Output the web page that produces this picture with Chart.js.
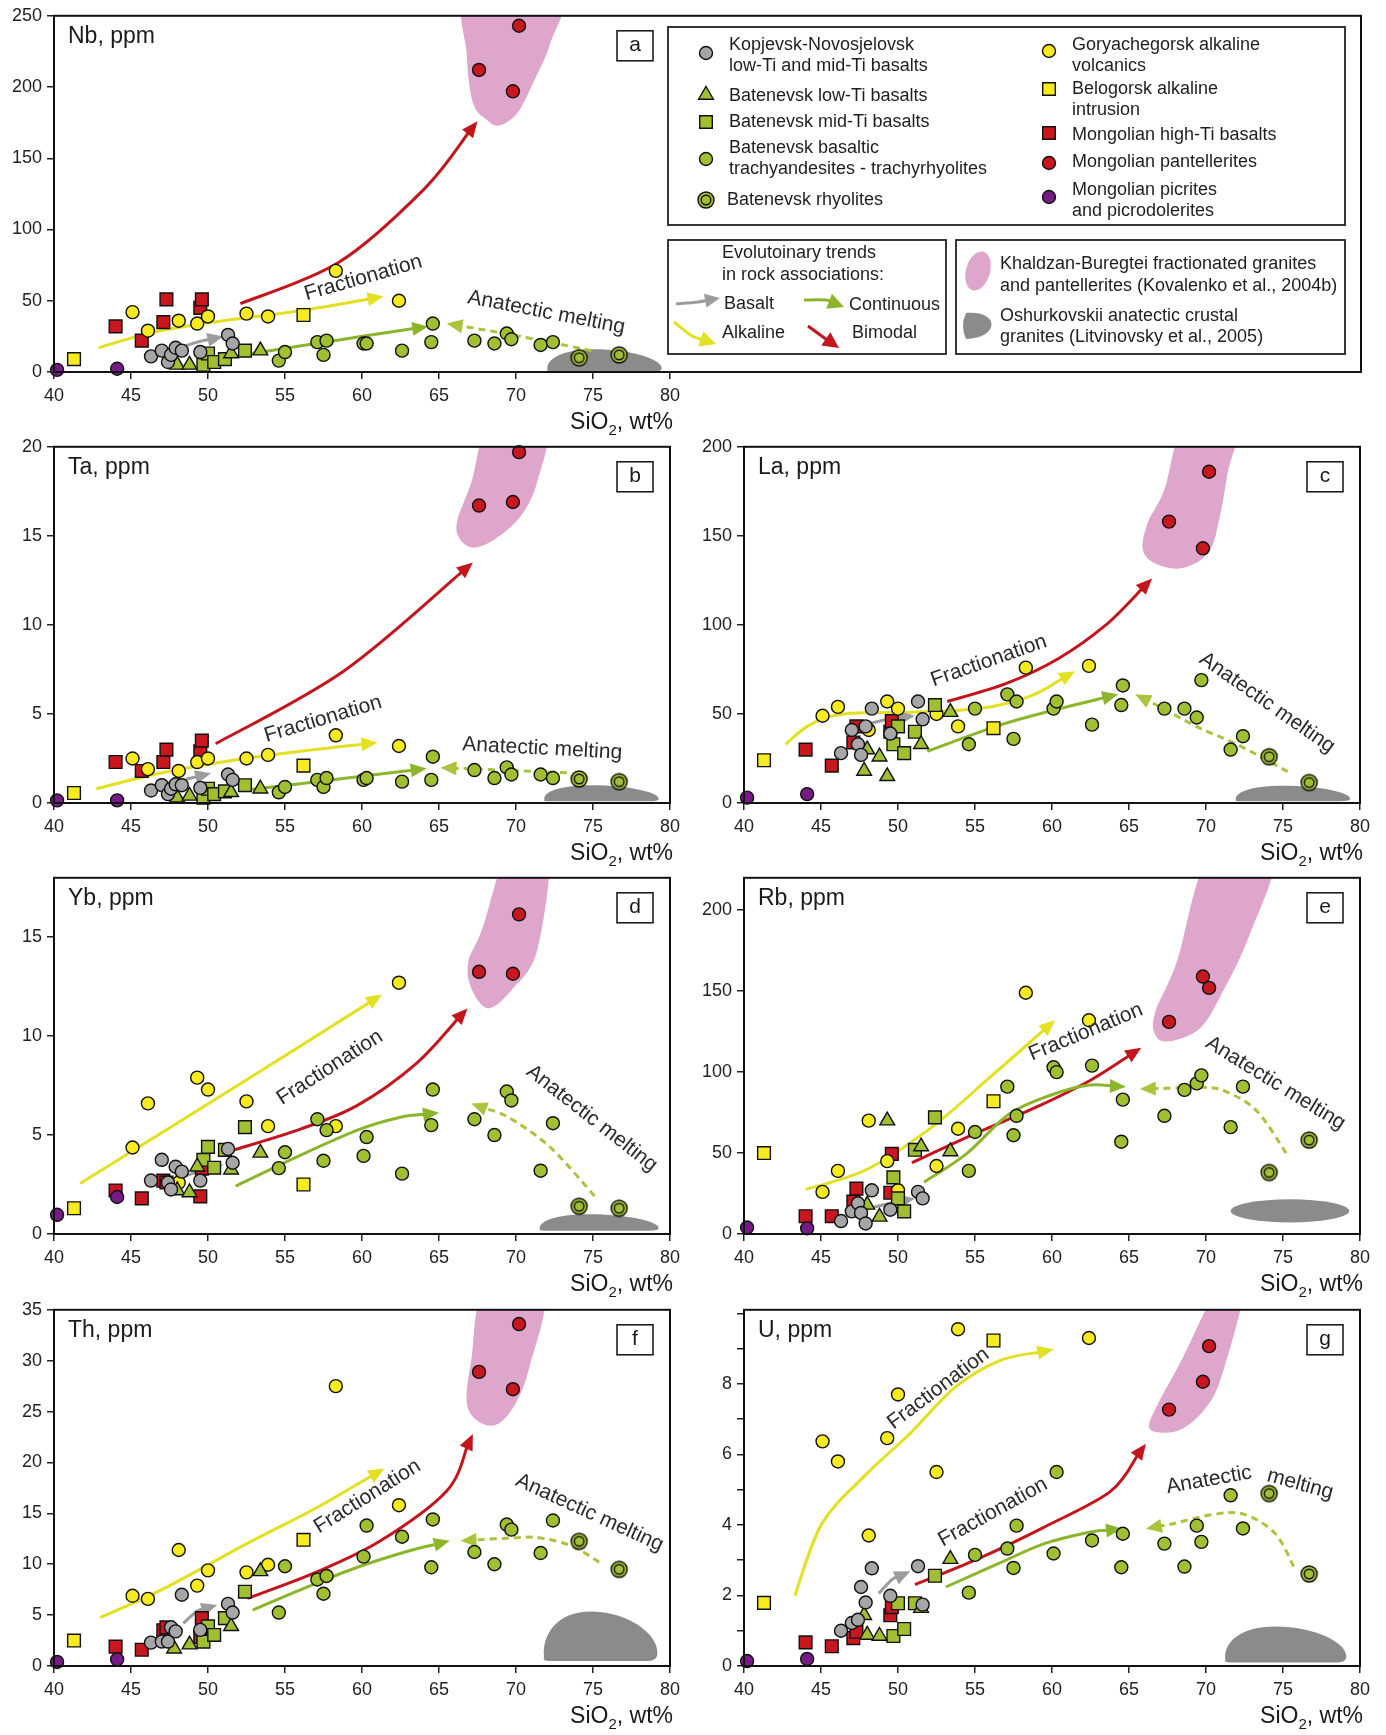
<!DOCTYPE html>
<html>
<head>
<meta charset="utf-8">
<title>Trace elements vs SiO2</title>
<script src="https://cdn.jsdelivr.net/npm/chart.js@4.4.1/dist/chart.umd.min.js"></script>
<style>
  html, body { margin: 0; padding: 0; background: #fff; }
  body { position: relative; width: 1386px; height: 1735px; overflow: hidden; }
  canvas { position: absolute; }
</style>
</head>
<body>
<canvas id="pa"></canvas>
<canvas id="pb"></canvas>
<canvas id="pc"></canvas>
<canvas id="pd"></canvas>
<canvas id="pe"></canvas>
<canvas id="pf"></canvas>
<canvas id="pg"></canvas>
<script>
// SiO2 (wt%) of the samples in each group
const siKN = [46.3, 47.0, 47.4, 47.6, 47.9, 48.3, 49.5, 51.3, 51.6];
const siBL = [47.8, 48.0, 48.8, 49.3, 51.5, 53.4];
const siBM = [49.7, 50.0, 50.4, 51.1, 52.4];
const siBT = [54.6, 55.0, 57.1, 57.5, 57.7, 60.1, 60.3, 62.6, 64.5, 64.6, 67.3, 68.6, 69.4, 69.7, 71.6, 72.4];
const siBR = [74.1, 76.7];
const siGA = [45.1, 46.1, 48.1, 49.3, 50.0, 52.5, 53.9, 58.3, 62.4];
const siBA = [41.3, 56.2];
const siMB = [44.0, 45.7, 47.1, 47.3, 49.5, 49.6];
const siMP = [67.6, 69.8, 70.2];
const siPI = [40.2, 44.1];

// element contents, same sample order as the SiO2 lists (null = not plotted)
const nbPpm = {
  kn: [11, 15, 7, 12, 17, 15, 14, 26, 20],
  bl: [null, 5, 5, null, 13, 15],
  bm: [5, 13, 7, 9, 15],
  bt: [8, 14, 21, 12, 22, 20, 20, 15, 21, 34, 22, 20, 27, 23, 19, 21],
  br: [10, 12],
  ga: [42, 29, 36, 34, 39, 41, 39, 71, 50],
  ba: [9, 40],
  mb: [32, 22, 35, 51, 45, 51],
  mp: [212, 197, 243],
  pi: [1.5, 2.3]
};
const taPpm = {
  kn: [0.7, 1.0, 0.5, 0.8, 1.05, 1.0, 0.85, 1.6, 1.3],
  bl: [null, 0.3, 0.4, null, 0.6, 0.8],
  bm: [0.3, 0.8, 0.5, 0.65, 1.0],
  bt: [0.6, 0.9, 1.3, 0.9, 1.4, 1.3, 1.4, 1.2, 1.3, 2.6, 1.85, 1.4, 2.0, 1.6, 1.6, 1.4],
  br: [1.35, 1.2],
  ga: [2.5, 1.9, 1.8, 2.3, 2.5, 2.5, 2.7, 3.8, 3.2],
  ba: [0.56, 2.1],
  mb: [2.3, 1.8, 2.3, 3.0, 2.9, 3.5],
  mp: [16.7, 16.9, 19.7],
  pi: [0.15, 0.15]
};
const laPpm = {
  kn: [28, 41, 33, 27, 43, 53, 39, 57, 47],
  bl: [18, 30, 26, 15, 33, 51],
  bm: [33, 43, 28, 40, 55],
  bt: [33, 53, 61, 36, 57, 53, 57, 44, 55, 66, 53, 53, 48, 69, 30, 37.5],
  br: [26, 11.5],
  ga: [49, 54, 41, 57, 53, 50, 43, 76, 77],
  ba: [24, 42],
  mb: [30, 21, 34, 43, 40, 46],
  mp: [158, 143, 186],
  pi: [3, 5]
};
const ybPpm = {
  kn: [2.7, 3.75, 2.6, 2.25, 3.4, 3.15, 2.7, 4.3, 3.6],
  bl: [null, 2.2, 2.1, 3.4, 3.25, 4.1],
  bm: [3.75, 4.4, 3.35, 4.25, 5.4],
  bt: [3.33, 4.13, 5.8, 3.7, 5.25, 3.95, 4.9, 3.05, 5.5, 7.3, 5.8, 5.0, 7.2, 6.75, 3.2, 5.6],
  br: [1.4, 1.3],
  ga: [4.37, 6.6, 2.6, 7.9, 7.3, 6.7, 5.45, 5.45, 12.7],
  ba: [1.3, 2.5],
  mb: [2.2, 1.8, 2.7, 2.6, 1.9, 3.3],
  mp: [13.25, 13.15, 16.15],
  pi: [0.97, 1.87]
};
const rbPpm = {
  kn: [8, 14, 19, 13, 6.5, 27, 15, 26, 22],
  bl: [null, 18, 10.6, 70, 54, 51],
  bm: [35, 22, 14, 52, 72],
  bt: [39, 63, 91, 61, 73, 103, 100, 104, 57, 83, 73, 89, 93, 98, 66, 91],
  br: [38, 58],
  ga: [26, 39, 70, 45, 27, 42, 65, 149, 132],
  ba: [50, 82],
  mb: [11, 11, 20, 28, 25.5, 49.5],
  mp: [131, 159, 152],
  pi: [4, 3.5]
};
const thPpm = {
  kn: [2.3, 2.4, 2.4, 3.8, 3.4, 7.0, 3.55, 6.1, 5.25],
  bl: [1.7, null, 2.1, null, 3.9, 9.3],
  bm: [2.4, 3.9, 3.05, 4.7, 7.3],
  bt: [5.25, 9.8, 8.5, 7.1, 8.85, 10.75, 13.8, 12.7, 9.7, 14.4, 11.2, 10.0, 13.9, 13.4, 11.1, 14.3],
  br: [12.25, 9.5],
  ga: [6.9, 6.6, 11.4, 7.9, 9.4, 9.2, 9.95, 27.5, 15.8],
  ba: [2.5, 12.4],
  mb: [1.9, 1.6, 3.5, 3.8, 2.85, 4.7],
  mp: [28.9, 27.2, 33.6],
  pi: [0.4, 0.65]
};
const uPpm = {
  kn: [1.0, 1.22, 1.31, 2.24, 1.8, 2.77, 1.99, 2.83, 1.74],
  bl: [1.44, 0.88, 0.85, null, 1.64, 3.03],
  bm: [0.85, 1.78, 1.05, 1.78, 2.56],
  bt: [2.08, 3.15, 3.33, 2.78, 3.98, 3.19, 5.5, 3.56, 2.8, 3.75, 3.47, 2.82, 3.98, 3.52, 4.84, 3.9],
  br: [4.89, 2.61],
  ga: [6.37, 5.8, 3.7, 6.46, 7.7, 5.5, 9.55, null, 9.3],
  ba: [1.79, 9.23],
  mb: [0.67, 0.56, 0.79, 0.97, 1.44, 1.67],
  mp: [7.27, 8.06, 9.07],
  pi: [0.14, 0.2]
};

const FONT = '"Liberation Sans", Arial, Helvetica, sans-serif';
const GREEN = '#a0c032', YELLOW = '#f7ea1f', RED = '#c8171e', GREY = '#a6a6a8', PURPLE = '#751b86';

function ringImage(fill) {
  const c = document.createElement('canvas');
  c.width = c.height = 20;
  const g = c.getContext('2d');
  g.lineWidth = 1.4; g.strokeStyle = '#111'; g.fillStyle = fill;
  g.beginPath(); g.arc(10, 10, 8, 0, 2 * Math.PI); g.fill(); g.stroke();
  g.beginPath(); g.arc(10, 10, 4.8, 0, 2 * Math.PI); g.stroke();
  return c;
}
const RING = ringImage(GREEN);

const SERIES = [
  { key: 'pi', si: siPI, fill: PURPLE, shape: 'circle', name: 'Mongolian picrites and picrodolerites' },
  { key: 'kn', si: siKN, fill: GREY, shape: 'circle', name: 'Kopjevsk-Novosjelovsk low-Ti and mid-Ti basalts' },
  { key: 'bl', si: siBL, fill: GREEN, shape: 'triangle', name: 'Batenevsk low-Ti basalts' },
  { key: 'bm', si: siBM, fill: GREEN, shape: 'rect', name: 'Batenevsk mid-Ti basalts' },
  { key: 'bt', si: siBT, fill: GREEN, shape: 'circle', name: 'Batenevsk basaltic trachyandesites - trachyrhyolites' },
  { key: 'br', si: siBR, fill: GREEN, shape: 'double', name: 'Batenevsk rhyolites' },
  { key: 'ga', si: siGA, fill: YELLOW, shape: 'circle', name: 'Goryachegorsk alkaline volcanics' },
  { key: 'ba', si: siBA, fill: YELLOW, shape: 'rect', name: 'Belogorsk alkaline intrusion' },
  { key: 'mb', si: siMB, fill: RED, shape: 'rect', name: 'Mongolian high-Ti basalts' },
  { key: 'mp', si: siMP, fill: RED, shape: 'circle', name: 'Mongolian pantellerites' }
];

const TREND = {
  gray: { color: '#9c9c9c' },
  yellow: { color: '#e2e021' },
  red: { color: '#c3161c' },
  green: { color: '#8cb52b' },
  dashed: { color: '#a8c53c', dash: true }
};

const ROW_TOPS = [12, 443, 874, 1306];
const COL_LEFT = [54, 744];
const AREA_W = 616, AREA_H = 360;

const PANELS = [
  { id: 'pa', letter: 'a', label: 'Nb, ppm', vals: nbPpm, yMax: 250, yStep: 50, col: 0, row: 0, wide: true,
    pink: [[66.9, 265], [66.8, 223], [67.2, 189], [68.1, 177], [68.9, 173], [70.1, 182], [71.2, 205], [72.2, 230], [72.8, 265]],
    gray: { kind: 'dome', x0: 71.9, x1: 79.5, y0: 0, y1: 16 },
    arrows: [
      { c: 'yellow', pts: [[42.9, 17], [46.5, 28], [51.0, 36], [56, 43], [61.4, 53]] },
      { c: 'red', pts: [[52.1, 48], [58.5, 77], [64.0, 128], [67.5, 176]] },
      { c: 'green', pts: [[52.3, 12], [58.2, 22], [64.3, 32]] },
      { c: 'dashed', pts: [[74.9, 15], [69.8, 26], [65.5, 34]] },
      { c: 'gray', pts: [[47.5, 15], [49.3, 21], [51.0, 25]] }
    ],
    notes: [{ t: 'Fractionation', x: 56.4, y: 50.3, rot: -16 }, { t: 'Anatectic melting', x: 66.8, y: 48.5, rot: 11 }] },
  { id: 'pb', letter: 'b', label: 'Ta, ppm', vals: taPpm, yMax: 20, yStep: 5, col: 0, row: 1,
    pink: [[68.4, 21.5], [67.1, 18], [66.2, 15.9], [66.3, 14.9], [67.2, 14.35], [68.6, 14.8], [70.3, 16.1], [71.4, 18.1], [72.0, 21.5]],
    gray: { kind: 'dome', x0: 71.7, x1: 79.3, y0: 0.1, y1: 1.0 },
    arrows: [
      { c: 'yellow', pts: [[42.75, 0.8], [46.5, 1.6], [50.9, 2.3], [56, 2.9], [61.0, 3.4]] },
      { c: 'red', pts: [[50.5, 3.33], [58.8, 7.4], [67.2, 13.5]] },
      { c: 'green', pts: [[52.6, 0.74], [58.1, 1.3], [64.2, 1.94]] },
      { c: 'dashed', pts: [[73.3, 1.7], [69, 1.85], [65.1, 1.98]] },
      { c: 'gray', pts: [[48.55, 1.33], [49.4, 1.5], [50.2, 1.67]] }
    ],
    notes: [{ t: 'Fractionation', x: 53.8, y: 3.43, rot: -16.5 }, { t: 'Anatectic melting', x: 66.5, y: 2.96, rot: 3 }] },
  { id: 'pc', letter: 'c', label: 'La, ppm', vals: laPpm, yMax: 200, yStep: 50, col: 1, row: 1,
    pink: [[68.7, 215], [67.3, 176], [66.2, 157], [65.9, 142], [66.8, 134], [68.5, 132], [70.2, 141], [70.9, 161], [71.4, 185], [72.0, 215]],
    gray: { kind: 'dome', x0: 71.8, x1: 79.4, y0: 1, y1: 9.7 },
    arrows: [
      { c: 'yellow', pts: [[42.7, 33], [44.3, 44], [46.5, 50], [50.9, 51], [55.3, 53], [58.6, 60], [61.5, 74]] },
      { c: 'red', pts: [[53.2, 57], [57, 67], [60.4, 81], [63.5, 100], [66.5, 126]] },
      { c: 'green', pts: [[51.9, 29], [56.7, 44], [60.5, 53], [64.3, 61]] },
      { c: 'dashed', pts: [[75.3, 17.6], [72, 33], [69.6, 42], [67, 54], [65.4, 61]] },
      { c: 'gray', pts: [[47.5, 43], [49.3, 47], [51.1, 49]] }
    ],
    notes: [{ t: 'Fractionation', x: 52.3, y: 65.4, rot: -19.3 }, { t: 'Anatectic melting', x: 69.5, y: 79.3, rot: 35 }] },
  { id: 'pd', letter: 'd', label: 'Yb, ppm', vals: ybPpm, yMax: 18, yStep: 5, col: 0, row: 2,
    pink: [[69.6, 19.5], [67.8, 15.4], [66.9, 13.75], [67.1, 12.4], [68.2, 11.4], [69.8, 12.4], [71.4, 14.4], [72.1, 19.5]],
    gray: { kind: 'dome', x0: 71.4, x1: 79.3, y0: 0.17, y1: 1.0 },
    arrows: [
      { c: 'yellow', pts: [[41.7, 2.55], [51.5, 7.3], [61.3, 12.1]] },
      { c: 'red', pts: [[51.7, 4.25], [56, 5.3], [59.7, 6.5], [63.5, 8.6], [66.85, 11.4]] },
      { c: 'green', pts: [[51.8, 2.42], [55.5, 3.8], [59.7, 5.25], [62.5, 5.9], [65.0, 6.13]] },
      { c: 'dashed', pts: [[75.1, 1.92], [72.2, 4.4], [69.5, 5.9], [67.1, 6.6]] },
      { c: 'gray', pts: [[47.9, 2.75], [49.5, 3.2], [51.0, 3.5]] }
    ],
    notes: [{ t: 'Fractionation', x: 54.8, y: 6.5, rot: -32.8 }, { t: 'Anatectic melting', x: 70.6, y: 8.1, rot: 38 }] },
  { id: 'pe', letter: 'e', label: 'Rb, ppm', vals: rbPpm, yMax: 220, yStep: 50, col: 1, row: 2,
    pink: [[70.3, 235], [68.1, 168], [66.7, 137], [66.7, 123], [67.6, 119], [69.6, 127], [71.0, 148], [72.8, 184], [74.4, 235]],
    gray: { kind: 'ellipse', x0: 71.6, x1: 79.3, y0: 7.1, y1: 21.4 },
    arrows: [
      { c: 'yellow', pts: [[44.0, 27.5], [48, 40], [52.2, 66], [56, 97], [60.2, 132]] },
      { c: 'red', pts: [[50.9, 44], [55, 62], [58.9, 78], [62.5, 95], [65.8, 115]] },
      { c: 'green', pts: [[51.7, 32], [54.5, 50], [57.2, 74], [60, 86], [62.4, 92], [64.8, 91]] },
      { c: 'dashed', pts: [[75.2, 50], [73.3, 76], [71.3, 88], [69.9, 90.6], [67.5, 90], [65.7, 89.6]] },
      { c: 'gray', pts: [[47.75, 15], [49.5, 19], [51.1, 22]] }
    ],
    notes: [{ t: 'Fractionation', x: 58.7, y: 107, rot: -22.5 }, { t: 'Anatectic melting', x: 69.9, y: 116, rot: 31.7 }] },
  { id: 'pf', letter: 'f', label: 'Th, ppm', vals: thPpm, yMax: 35, yStep: 5, col: 0, row: 3,
    pink: [[68.0, 37], [67.1, 30.1], [66.8, 25.9], [67.5, 24.1], [68.7, 23.7], [69.9, 25.6], [70.9, 29.5], [71.8, 37]],
    gray: { kind: 'dome', x0: 71.67, x1: 79.22, y0: 0.49, y1: 5.35 },
    arrows: [
      { c: 'yellow', pts: [[43.0, 4.76], [47, 7.5], [52.5, 12], [57, 15.5], [61.45, 19.4]] },
      { c: 'red', pts: [[52.55, 6.64], [57, 9.2], [61.2, 12.3], [65.5, 17.2], [67.2, 22.8]] },
      { c: 'green', pts: [[52.9, 5.5], [56.5, 7.8], [59.7, 9.7], [62.8, 11.2], [65.7, 12.3]] },
      { c: 'dashed', pts: [[75.4, 10.2], [73.6, 11.8], [71.5, 12.6], [69.9, 12.6], [66.4, 12.3]] },
      { c: 'gray', pts: [[48.4, 4.2], [49.3, 5.4], [50.6, 6.0]] }
    ],
    notes: [{ t: 'Fractionation', x: 57.2, y: 13.0, rot: -32 }, { t: 'Anatectic melting', x: 69.9, y: 17.8, rot: 24.6 }] },
  { id: 'pg', letter: 'g', label: 'U, ppm', vals: uPpm, yMax: 10.1, yStep: 1, col: 1, row: 3,
    tickCb: v => (v % 2 === 0 && v <= 8) ? v : '',
    pink: [[70.9, 10.8], [68.4, 8.66], [66.9, 7.45], [66.3, 6.8], [67.0, 6.62], [68.4, 6.71], [69.9, 7.27], [71.0, 8.2], [72.5, 10.8]],
    gray: { kind: 'dome', x0: 71.1, x1: 79.15, y0: 0.1, y1: 1.12 },
    arrows: [
      { c: 'yellow', pts: [[43.3, 1.99], [45.05, 4.03], [47.9, 5.42], [50.8, 6.6], [53.7, 7.9], [56.6, 8.66], [60.1, 8.98]] },
      { c: 'red', pts: [[51.1, 2.31], [55, 3.0], [59.5, 3.94], [63.8, 4.95], [66.1, 6.3]] },
      { c: 'green', pts: [[53.1, 2.24], [56.5, 2.9], [59.5, 3.47], [62.5, 3.8], [64.55, 3.89]] },
      { c: 'dashed', pts: [[75.7, 2.82], [74.5, 3.75], [72.5, 4.3], [70.5, 4.3], [68, 4.05], [66.1, 3.89]] },
      { c: 'gray', pts: [[48.75, 2.06], [49.6, 2.45], [50.8, 2.69]] }
    ],
    notes: [{ t: 'Fractionation', x: 49.7, y: 6.7, rot: -37 }, { t: 'Fractionation', x: 52.9, y: 3.38, rot: -29 },
            { t: 'Anatectic', x: 67.5, y: 4.9, rot: -10 }, { t: 'melting', x: 73.9, y: 5.25, rot: 15.5 }] }
];

// Catmull-Rom spline through pixel points
function spline(ctx, pts, closed) {
  const n = pts.length;
  const get = i => closed ? pts[(i + n) % n] : pts[Math.max(0, Math.min(n - 1, i))];
  ctx.moveTo(pts[0][0], pts[0][1]);
  const segs = closed ? n : n - 1;
  for (let i = 0; i < segs; i++) {
    const p0 = get(i - 1), p1 = get(i), p2 = get(i + 1), p3 = get(i + 2);
    ctx.bezierCurveTo(p1[0] + (p2[0] - p0[0]) / 6, p1[1] + (p2[1] - p0[1]) / 6,
                      p2[0] - (p3[0] - p1[0]) / 6, p2[1] - (p3[1] - p1[1]) / 6, p2[0], p2[1]);
  }
}

function drawArrow(ctx, pts, st, width, head, half) {
  width = width || 3; head = head || 16; half = half || 7;
  const n = pts.length, tip = pts[n - 1], prev = pts[n - 2];
  let dx = tip[0] - prev[0], dy = tip[1] - prev[1];
  const L = Math.hypot(dx, dy); dx /= L; dy /= L;
  const line = pts.slice(0, n - 1).concat([[tip[0] - dx * head * 0.8, tip[1] - dy * head * 0.8]]);
  ctx.save();
  ctx.strokeStyle = st.color; ctx.fillStyle = st.color; ctx.lineWidth = width;
  if (st.dash) ctx.setLineDash([7, 5]);
  ctx.beginPath(); spline(ctx, line, false); ctx.stroke();
  ctx.setLineDash([]);
  const bx = tip[0] - dx * head, by = tip[1] - dy * head;
  ctx.beginPath();
  ctx.moveTo(tip[0], tip[1]);
  ctx.lineTo(bx - dy * half, by + dx * half);
  ctx.lineTo(bx + dy * half, by - dx * half);
  ctx.closePath(); ctx.fill();
  ctx.restore();
}

// loaf-shaped field with a flat base
function domePath(ctx, x0, x1, yb, yt) {
  const w = x1 - x0, h = yb - yt;
  ctx.moveTo(x0 + 0.02 * w, yb - 0.08 * h);
  ctx.bezierCurveTo(x0, yb - 0.55 * h, x0 + 0.14 * w, yt, x0 + 0.42 * w, yt);
  ctx.bezierCurveTo(x0 + 0.74 * w, yt, x1, yb - 0.55 * h, x1 - 0.005 * w, yb - 0.16 * h);
  ctx.quadraticCurveTo(x1, yb, x1 - 0.09 * w, yb);
  ctx.lineTo(x0 + 0.07 * w, yb);
  ctx.quadraticCurveTo(x0, yb, x0 + 0.02 * w, yb - 0.08 * h);
  ctx.closePath();
}

function drawMarker(ctx, shape, fill, x, y) {
  if (shape === 'double') { ctx.drawImage(RING, x - 10, y - 10); return; }
  ctx.save();
  ctx.fillStyle = fill; ctx.strokeStyle = '#111'; ctx.lineWidth = 1.4;
  ctx.beginPath();
  if (shape === 'circle') ctx.arc(x, y, 6.5, 0, 2 * Math.PI);
  else if (shape === 'rect') ctx.rect(x - 6.3, y - 6.3, 12.6, 12.6);
  else { ctx.moveTo(x, y - 8.5); ctx.lineTo(x + 7.4, y + 4.25); ctx.lineTo(x - 7.4, y + 4.25); ctx.closePath(); }
  ctx.fill(); ctx.stroke();
  ctx.restore();
}

function drawSiTitle(ctx, right, base) {
  ctx.save();
  ctx.fillStyle = '#1a1a1a'; ctx.textBaseline = 'alphabetic'; ctx.textAlign = 'left';
  const big = '23px ' + FONT, small = '15px ' + FONT;
  ctx.font = big;
  const w1 = ctx.measureText('SiO').width, w3 = ctx.measureText(', wt%').width;
  ctx.font = small;
  const w2 = ctx.measureText('2').width;
  const x0 = right - (w1 + w2 + w3);
  ctx.font = big; ctx.fillText('SiO', x0, base);
  ctx.font = small; ctx.fillText('2', x0 + w1, base + 6);
  ctx.font = big; ctx.fillText(', wt%', x0 + w1 + w2, base);
  ctx.restore();
}

function drawLegend(ctx) {
  ctx.save();
  ctx.lineWidth = 1.8; ctx.strokeStyle = '#222'; ctx.fillStyle = '#fff';
  [[668, 27, 677, 198], [668, 240, 278, 114], [956, 240, 389, 114]].forEach(b => {
    ctx.fillRect(b[0], b[1], b[2], b[3]); ctx.strokeRect(b[0], b[1], b[2], b[3]);
  });
  const byKey = {};
  SERIES.forEach(s => { byKey[s.key] = s; });
  const items = [
    ['kn', 706, 53, 729, [['Kopjevsk-Novosjelovsk', 45], ['low-Ti and mid-Ti basalts', 66]]],
    ['bl', 706, 95, 729, [['Batenevsk low-Ti basalts', 96]]],
    ['bm', 706, 122, 729, [['Batenevsk mid-Ti basalts', 122]]],
    ['bt', 706, 159, 729, [['Batenevsk basaltic', 148], ['trachyandesites - trachyrhyolites', 169]]],
    ['br', 706, 200, 727, [['Batenevsk rhyolites', 200]]],
    ['ga', 1049, 51, 1072, [['Goryachegorsk alkaline', 45], ['volcanics', 66]]],
    ['ba', 1049, 89, 1072, [['Belogorsk alkaline', 89], ['intrusion', 110]]],
    ['mb', 1049, 133, 1072, [['Mongolian high-Ti basalts', 135]]],
    ['mp', 1049, 163, 1072, [['Mongolian pantellerites', 162]]],
    ['pi', 1049, 197, 1072, [['Mongolian picrites', 190], ['and picrodolerites', 211]]]
  ];
  ctx.font = '18px ' + FONT; ctx.textBaseline = 'middle'; ctx.textAlign = 'left';
  items.forEach(it => {
    const s = byKey[it[0]];
    drawMarker(ctx, s.shape, s.fill, it[1], it[2]);
    ctx.fillStyle = '#1e1e1e';
    it[4].forEach(l => ctx.fillText(l[0], it[3], l[1]));
  });
  // trends box
  ctx.fillStyle = '#1e1e1e';
  ctx.fillText('Evolutoinary trends', 722, 253);
  ctx.fillText('in rock associations:', 722, 275);
  ctx.fillText('Basalt', 724, 304);
  ctx.fillText('Continuous', 849, 305);
  ctx.fillText('Alkaline', 722, 333);
  ctx.fillText('Bimodal', 852, 333);
  drawArrow(ctx, [[676, 304], [698, 302], [720, 298]], TREND.gray, 3, 15, 7);
  drawArrow(ctx, [[804, 300], [826, 300], [844, 307]], TREND.green, 3, 16, 8);
  drawArrow(ctx, [[674, 322], [692, 336], [716, 344]], TREND.yellow, 3, 16, 8);
  drawArrow(ctx, [[808, 326], [823, 337], [839, 348]], TREND.red, 3, 16, 8);
  // fields box
  ctx.fillStyle = '#dea6cb';
  ctx.beginPath(); ctx.ellipse(978, 271, 12, 20, 0.28, 0, 2 * Math.PI); ctx.fill();
  ctx.fillStyle = '#8b8b8b';
  ctx.beginPath(); ctx.moveTo(966, 313);
  ctx.bezierCurveTo(1000, 310, 1000, 338, 966, 339);
  ctx.quadraticCurveTo(960, 326, 966, 313); ctx.fill();
  ctx.fillStyle = '#1e1e1e';
  ctx.fillText('Khaldzan-Buregtei fractionated granites', 1000, 264);
  ctx.fillText('and pantellerites (Kovalenko et al., 2004b)', 1000, 286);
  ctx.fillText('Oshurkovskii anatectic crustal', 1000, 316);
  ctx.fillText('granites (Litvinovsky et al., 2005)', 1000, 337);
  ctx.restore();
}

function makeDecor(p) {
  return {
    id: 'decor',
    beforeDatasetsDraw(chart) {
      const { ctx, chartArea: a, scales: { x, y } } = chart;
      const px = d => [x.getPixelForValue(d[0]), y.getPixelForValue(d[1])];
      ctx.save();
      ctx.beginPath(); ctx.rect(a.left, a.top, a.right - a.left, a.bottom - a.top); ctx.clip();
      ctx.beginPath(); spline(ctx, p.pink.map(px), true); ctx.closePath();
      ctx.fillStyle = '#dea6cb'; ctx.fill();
      const g = p.gray;
      const gx0 = x.getPixelForValue(g.x0), gx1 = x.getPixelForValue(g.x1);
      const gyb = y.getPixelForValue(g.y0), gyt = y.getPixelForValue(g.y1);
      ctx.beginPath();
      if (g.kind === 'ellipse') ctx.ellipse((gx0 + gx1) / 2, (gyb + gyt) / 2, (gx1 - gx0) / 2, (gyb - gyt) / 2, 0, 0, 2 * Math.PI);
      else domePath(ctx, gx0, gx1, gyb, gyt);
      ctx.fillStyle = '#8b8b8b'; ctx.fill();
      p.arrows.forEach(ar => drawArrow(ctx, ar.pts.map(px), TREND[ar.c]));
      ctx.restore();
    },
    afterDraw(chart) {
      const { ctx, chartArea: a, scales: { x, y } } = chart;
      ctx.save();
      // trend labels
      ctx.fillStyle = '#2b2b2b'; ctx.font = '21px ' + FONT;
      ctx.textBaseline = 'alphabetic'; ctx.textAlign = 'left';
      p.notes.forEach(n => {
        ctx.save();
        ctx.translate(x.getPixelForValue(n.x), y.getPixelForValue(n.y));
        ctx.rotate(n.rot * Math.PI / 180);
        ctx.fillText(n.t, 0, 0);
        ctx.restore();
      });
      // frame
      const right = p.wide ? 1361 : a.right;
      ctx.lineWidth = 2; ctx.strokeStyle = '#111';
      ctx.strokeRect(a.left, a.top, right - a.left, a.bottom - a.top);
      // panel letter
      const bx = a.right - 17 - 36, by = a.top + 15;
      ctx.fillStyle = '#fff'; ctx.fillRect(bx, by, 36, 30);
      ctx.lineWidth = 1.5; ctx.strokeRect(bx, by, 36, 30);
      ctx.fillStyle = '#1a1a1a'; ctx.font = '21px ' + FONT;
      ctx.textAlign = 'center'; ctx.textBaseline = 'middle';
      ctx.fillText(p.letter, bx + 18, by + 14);
      // element label
      ctx.textAlign = 'left'; ctx.textBaseline = 'alphabetic';
      ctx.font = '23px ' + FONT;
      ctx.fillText(p.label, a.left + 14, a.top + 27);
      ctx.restore();
      drawSiTitle(ctx, a.right + 3, a.bottom + 57);
      if (p.wide) drawLegend(ctx);
    }
  };
}

Chart.defaults.font.family = FONT;
Chart.defaults.color = '#222';

function makeChart(p) {
  const left = COL_LEFT[p.col], top = ROW_TOPS[p.row];
  const cv = document.getElementById(p.id);
  const cvLeft = left - 54, cvTop = top - 12;
  const cvW = p.wide ? 1386 : (p.col === 0 ? 690 : 696);
  const cvH = 12 + AREA_H + 64;
  cv.style.left = cvLeft + 'px';
  cv.style.top = cvTop + 'px';
  cv.width = cvW; cv.height = cvH;
  const rightPad = cvW - 54 - AREA_W;
  const axisGrid = { display: true, drawOnChartArea: false, drawTicks: true, tickLength: 7, color: '#222', lineWidth: 1.5 };
  const axisBorder = { display: true, color: '#111', width: 2 };
  return new Chart(cv, {
    type: 'scatter',
    data: {
      datasets: SERIES.map(s => ({
        label: s.name,
        data: s.si.map((v, i) => ({ x: v, y: p.vals[s.key][i] })).filter(d => d.y !== null),
        pointStyle: s.shape === 'double' ? RING : s.shape,
        pointRadius: s.shape === 'circle' ? 6.5 : s.shape === 'rect' ? 9 : s.shape === 'triangle' ? 8.5 : 10,
        backgroundColor: s.fill,
        borderColor: '#111',
        borderWidth: 1.4,
        clip: false
      }))
    },
    options: {
      responsive: false,
      animation: false,
      devicePixelRatio: 1,
      events: [],
      layout: { padding: { top: 12, right: rightPad, left: 0, bottom: 0 } },
      plugins: { legend: { display: false }, tooltip: { enabled: false } },
      scales: {
        x: {
          type: 'linear', min: 40, max: 80,
          ticks: { stepSize: 5, font: { size: 18 }, color: '#222', padding: 6, maxRotation: 0, autoSkip: false },
          grid: axisGrid, border: axisBorder,
          afterFit: s => { s.height = 64; }
        },
        y: {
          type: 'linear', min: 0, max: p.yMax,
          ticks: { stepSize: p.yStep, includeBounds: false, font: { size: 18 }, color: '#222', padding: 5, autoSkip: false,
                   callback: p.tickCb || (v => v) },
          grid: axisGrid, border: axisBorder,
          afterFit: s => { s.width = 54; }
        }
      }
    },
    plugins: [makeDecor(p)]
  });
}

PANELS.forEach(makeChart);
</script>
</body>
</html>
